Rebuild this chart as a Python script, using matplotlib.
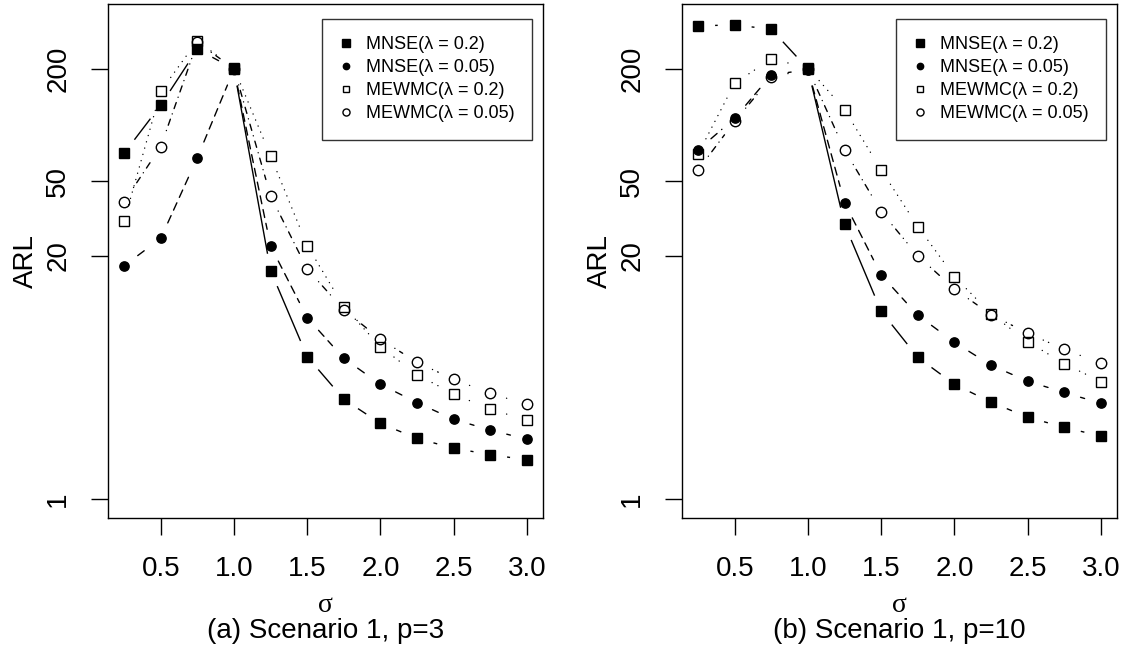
import numpy as np
import matplotlib
matplotlib.use("Agg")
import matplotlib.pyplot as plt
from matplotlib.lines import Line2D
from matplotlib.ticker import NullLocator

plt.rcParams['font.family'] = ['Liberation Sans', 'DejaVu Sans']
plt.rcParams['lines.scale_dashes'] = False

sigma = [0.25, 0.5, 0.75, 1.0, 1.25, 1.5, 1.75, 2.0, 2.25, 2.5, 2.75, 3.0]

# (a) Scenario 1, p=3
a_mnse_02 = [70.8, 128, 255, 200, 16.7, 5.78, 3.42, 2.54, 2.11, 1.87, 1.73, 1.62]
a_mnse_005 = [17.7, 24.8, 67, 199, 22.6, 9.34, 5.66, 4.11, 3.28, 2.67, 2.34, 2.09]
a_mewmc_02 = [30.7, 152, 283, 202, 68.5, 22.7, 10.7, 6.53, 4.63, 3.65, 3.02, 2.65]
a_mewmc_005 = [39, 76.8, 277, 201, 41.9, 17.0, 10.3, 7.16, 5.39, 4.37, 3.68, 3.21]

# (b) Scenario 1, p=10
b_mnse_02 = [340, 344, 326, 200, 29.5, 10.1, 5.73, 4.11, 3.30, 2.74, 2.42, 2.17]
b_mnse_005 = [73.8, 109, 186, 198, 38.5, 15.8, 9.62, 6.90, 5.20, 4.27, 3.72, 3.25]
b_mewmc_02 = [70.2, 168, 226, 203, 121, 57.6, 28.7, 15.5, 9.78, 6.95, 5.30, 4.25]
b_mewmc_005 = [57.7, 105, 180, 200, 73.8, 34.5, 20.0, 13.3, 9.7, 7.71, 6.33, 5.32]

labels = ['MNSE(λ = 0.2)', 'MNSE(λ = 0.05)', 'MEWMC(λ = 0.2)', 'MEWMC(λ = 0.05)']
yticks = [1, 20, 50, 200]
xticks = [0.5, 1.0, 1.5, 2.0, 2.5, 3.0]

# marker, size, face, line style  (R pch 15, 16, 0, 1 with type="b")
styles = [
    ('s', 7.9, 'black', '-'),
    ('o', 6.7, 'black', (0, (5.8, 4.3))),
    ('s', 7.2, 'none', (0, (0.1, 4.6))),
    ('o', 7.5, 'none', (0, (0.1, 4.0, 4.6, 4.0))),
]

W, H = 1127, 661
GAP = 17  # px between point and line end, like R type="b"


def draw_b(ax, x, y, marker, ms, mfc, ls):
    pts = ax.transData.transform(np.column_stack([x, y]))
    inv = ax.transData.inverted()
    for p0, p1 in zip(pts[:-1], pts[1:]):
        d = np.hypot(*(p1 - p0))
        if d <= 2 * GAP:
            continue
        u = (p1 - p0) / d
        seg = inv.transform(np.array([p0 + u * GAP, p1 - u * GAP]))
        ax.plot(seg[:, 0], seg[:, 1], color='black', lw=1.0, linestyle=ls,
                dash_capstyle='round', solid_capstyle='butt')
    ax.plot(x, y, linestyle='none', marker=marker, ms=ms, mfc=mfc,
            mec='black', mew=1.0)


def panel(fig, left_px, series, subtitle):
    ax = fig.add_axes([left_px / W, (H - 518) / H, 435 / W, 514 / H])
    ax.set_yscale('log')
    ax.set_xlim(0.14, 3.11)
    ax.set_ylim(0.792, 445)
    for vals, (m, ms, fc, ls) in zip(series, styles):
        draw_b(ax, sigma, vals, m, ms, fc, ls)
    ax.set_xticks(xticks)
    ax.set_xticklabels([f'{t:.1f}' for t in xticks])
    ax.set_yticks(yticks)
    ax.set_yticklabels([str(t) for t in yticks], rotation=90, va='center')
    ax.yaxis.set_minor_locator(NullLocator())
    ax.tick_params(length=12.5, width=1.0, labelsize=20)
    ax.tick_params(axis='x', pad=15)
    ax.tick_params(axis='y', pad=14)
    for s in ax.spines.values():
        s.set_linewidth(1.0)

    handles = [Line2D([], [], linestyle='none', marker=m, ms=ms * 0.68,
                      mfc=fc, mec='black', mew=1.0)
               for (m, ms, fc, ls) in styles]
    leg = ax.legend(handles, labels, loc='upper left',
                    bbox_to_anchor=(0.492, 0.0, 0.483, 0.971), mode='expand',
                    fontsize=13, frameon=True, fancybox=False,
                    edgecolor='black', borderpad=0.95, labelspacing=0.34,
                    handlelength=0.8, handletextpad=0.7, borderaxespad=0)
    leg.get_frame().set_linewidth(1.0)

    cx = left_px + 435 / 2
    fig.text((left_px - 82) / W, (H - 261) / H, 'ARL', rotation=90,
             ha='center', va='center', fontsize=20)
    fig.text(cx / W, (H - 605) / H, 'σ', ha='center', va='center',
             fontsize=20, family=['Liberation Serif', 'DejaVu Serif'])
    fig.text(cx / W, (H - 631) / H, subtitle, ha='center', va='center',
             fontsize=20)
    return ax


fig = plt.figure(figsize=(W / 100, H / 100), dpi=100)
panel(fig, 108, [a_mnse_02, a_mnse_005, a_mewmc_02, a_mewmc_005],
      '(a) Scenario 1, p=3')
panel(fig, 682, [b_mnse_02, b_mnse_005, b_mewmc_02, b_mewmc_005],
      '(b) Scenario 1, p=10')
fig.savefig('out.png', dpi=100)
